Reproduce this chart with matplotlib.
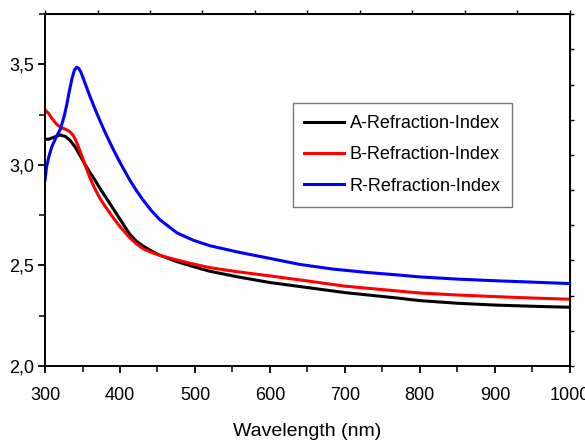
import matplotlib
matplotlib.use('Agg')
import matplotlib.pyplot as plt
from matplotlib.ticker import MultipleLocator, FuncFormatter

plt.rcParams['font.family'] = ['Liberation Sans', 'DejaVu Sans']

# A-Refraction-Index (black)
wl_a = [300, 305, 312, 320, 327, 333, 340, 347, 353, 360, 367, 373, 380, 387, 393, 400,
        413, 422, 431, 442, 453, 476, 498, 520, 556, 600, 640, 700, 770, 800, 850, 900,
        950, 1000]
n_a = [3.128, 3.128, 3.138, 3.149, 3.142, 3.124, 3.09, 3.045, 3.005, 2.962, 2.922, 2.885,
       2.845, 2.805, 2.77, 2.73, 2.655, 2.62, 2.596, 2.572, 2.551, 2.519, 2.494, 2.471,
       2.444, 2.415, 2.395, 2.365, 2.338, 2.325, 2.312, 2.303, 2.297, 2.292]

# B-Refraction-Index (red)
wl_b = [300, 305, 309, 316, 322, 327, 333, 338, 343, 347, 351, 356, 360, 366, 373, 380,
        387, 393, 400, 413, 422, 431, 442, 453, 476, 498, 520, 556, 600, 640, 700, 773,
        800, 850, 900, 950, 1000]
n_b = [3.274, 3.255, 3.232, 3.20, 3.185, 3.178, 3.166, 3.145, 3.105, 3.065, 3.025, 2.975,
       2.935, 2.885, 2.835, 2.795, 2.758, 2.727, 2.693, 2.638, 2.607, 2.583, 2.565, 2.55,
       2.527, 2.507, 2.489, 2.469, 2.448, 2.428, 2.397, 2.372, 2.363, 2.353, 2.345, 2.338,
       2.332]

# R-Refraction-Index (blue)
wl_r = [300, 302, 305, 309, 315, 320, 323, 326, 329, 332, 336, 339, 342, 345, 348, 351,
        354, 360, 367, 373, 380, 387, 392, 400, 413, 422, 431, 442, 453, 476, 498, 520,
        558, 600, 640, 684, 730, 773, 800, 850, 900, 950, 1000]
n_r = [2.925, 2.99, 3.04, 3.09, 3.14, 3.175, 3.21, 3.25, 3.30, 3.36, 3.43, 3.47, 3.486,
       3.48, 3.46, 3.43, 3.40, 3.34, 3.275, 3.222, 3.163, 3.108, 3.07, 3.012, 2.925, 2.872,
       2.824, 2.772, 2.728, 2.662, 2.625, 2.598, 2.566, 2.535, 2.505, 2.482, 2.465, 2.452,
       2.443, 2.432, 2.424, 2.417, 2.41]

fig = plt.figure(figsize=(5.85, 4.42), dpi=100)
ax = fig.add_axes([0.077, 0.172, 0.897, 0.796])

ax.plot(wl_a, n_a, color='black', lw=2.2, label='A-Refraction-Index')
ax.plot(wl_b, n_b, color='red', lw=2.2, label='B-Refraction-Index')
ax.plot(wl_r, n_r, color='blue', lw=2.2, label='R-Refraction-Index')

ax.set_xlim(300, 1000)
ax.set_ylim(2.0, 3.75)
ax.xaxis.set_major_locator(MultipleLocator(100))
ax.xaxis.set_minor_locator(MultipleLocator(50))
ax.yaxis.set_major_locator(MultipleLocator(0.5))
ax.yaxis.set_minor_locator(MultipleLocator(0.25))
ax.yaxis.set_major_formatter(FuncFormatter(lambda v, p: f'{v:.1f}'.replace('.', ',')))

ax.tick_params(which='major', length=5, width=1.3, labelsize=13, direction='out')
ax.tick_params(which='minor', length=4, width=1.1, direction='out')
ax.tick_params(axis='x', which='major', pad=10)
ax.tick_params(axis='y', which='major', pad=3)
for s in ax.spines.values():
    s.set_linewidth(1.4)

# top / right axes: 10 plain divisions, no labels
top = ax.secondary_xaxis('top', functions=(lambda x: (x - 300) / 70.0, lambda t: t * 70.0 + 300))
top.set_xticks(range(11))
top.set_xticklabels([])
top.tick_params(length=3, width=1.0, direction='out')
right = ax.secondary_yaxis('right', functions=(lambda y: (y - 2.0) / 0.175, lambda t: t * 0.175 + 2.0))
right.set_yticks(range(11))
right.set_yticklabels([])
right.tick_params(length=3, width=1.0, direction='out')

ax.set_xlabel('Wavelength (nm)', fontsize=14, labelpad=14)

leg = ax.legend(loc='upper left', bbox_to_anchor=(0.472, 0.747), fontsize=13,
                fancybox=False, edgecolor='#555555', handlelength=2.2,
                handletextpad=0.3, borderpad=0.65, labelspacing=0.8,
                borderaxespad=0)
leg.get_frame().set_linewidth(1.0)

fig.savefig('out.png', dpi=100)
